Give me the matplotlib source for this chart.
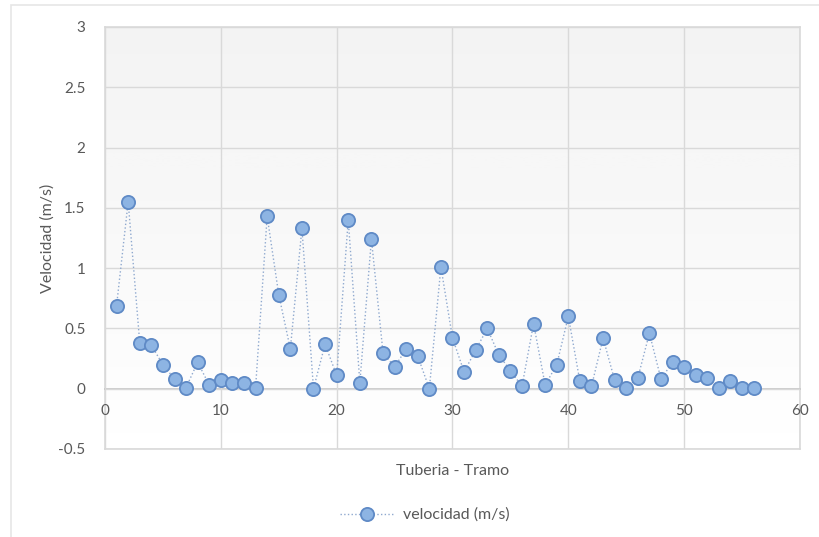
import numpy as np
import matplotlib.pyplot as plt
from matplotlib.patches import Rectangle

plt.rcParams['font.family'] = ['Lato', 'DejaVu Sans']

# tramos de tuberia y velocidad medida en cada uno
tramo = np.arange(1, 57)
velocidad = [0.69, 1.55, 0.38, 0.36, 0.20, 0.08, 0.01, 0.22, 0.03, 0.07,
             0.05, 0.05, 0.01, 1.43, 0.78, 0.33, 1.33, 0.00, 0.37, 0.11,
             1.40, 0.05, 1.24, 0.30, 0.18, 0.33, 0.27, 0.00, 1.01, 0.42,
             0.14, 0.32, 0.50, 0.28, 0.15, 0.02, 0.54, 0.03, 0.20, 0.60,
             0.06, 0.02, 0.42, 0.07, 0.01, 0.09, 0.46, 0.08, 0.22, 0.18,
             0.11, 0.09, 0.01, 0.06, 0.01, 0.01]

xticks = [0, 10, 20, 30, 40, 50, 60]
yticks = [-0.5, 0, 0.5, 1, 1.5, 2, 2.5, 3]

gris = "#595959"
rejilla = "#d9d9d9"

fig = plt.figure(figsize=(8.2, 5.37), dpi=100)
# marco exterior del grafico
fig.patches.append(Rectangle((11 / 820, -0.05), 1.0, 1 - 5 / 537 + 0.05,
                             transform=fig.transFigure, fill=False,
                             edgecolor="#e6e6e6", linewidth=1.2))

ax = fig.add_axes([105 / 820, 88 / 537, 695 / 820, 422 / 537])
ax.set_xlim(0, 60)
ax.set_ylim(-0.5, 3)

# fondo degradado blanco -> gris
grad = np.linspace(1, 0, 256).reshape(-1, 1)
ax.imshow(grad, extent=[0, 60, -0.5, 3], aspect="auto", cmap="Greys_r",
          vmin=-9, vmax=1, zorder=0, origin="lower")

ax.set_xticks(xticks)
ax.set_yticks(yticks)
ax.set_yticklabels([f"{v:g}" for v in yticks])
ax.grid(True, color=rejilla, linewidth=1.0, zorder=1)
ax.axhline(-0.5, color=rejilla, linewidth=1.2, zorder=1, clip_on=False)
ax.axvline(0, color=rejilla, linewidth=1.2, zorder=1, clip_on=False)
ax.axvline(60, color=rejilla, linewidth=1.2, zorder=1, clip_on=False)
ax.axhline(3, color=rejilla, linewidth=1.2, zorder=1, clip_on=False)

for s in ["left", "right", "top"]:
    ax.spines[s].set_visible(False)
ax.spines["bottom"].set_position(("data", 0))
ax.spines["bottom"].set_color("#c8c8c8")
ax.spines["bottom"].set_linewidth(1.3)
ax.spines["bottom"].set_zorder(1.5)

ax.tick_params(axis="both", length=0, labelsize=11, colors=gris)
ax.tick_params(axis="x", pad=11)
ax.tick_params(axis="y", pad=14)

ax.plot(tramo, velocidad, linestyle=":", color="#8fa9cf", linewidth=1.0,
        marker="o", markersize=9.5, markerfacecolor="#8db4e3",
        markeredgecolor="#5f8ac6", markeredgewidth=1.3,
        label="velocidad (m/s)", zorder=3)

ax.set_xlabel("Tuberia - Tramo", fontsize=11.5, color=gris, labelpad=0)
ax.xaxis.set_label_coords(0.5, -15 / 422)
ax.set_ylabel("Velocidad (m/s)", fontsize=11.5, color=gris)
ax.yaxis.set_label_coords(-50 / 695, 0.5)

fig.legend(loc="center", bbox_to_anchor=(0.518, 0.041), frameon=False,
           fontsize=11.5, labelcolor=gris, handlelength=3.4,
           handletextpad=0.5)

plt.savefig("out.png", dpi=100)
